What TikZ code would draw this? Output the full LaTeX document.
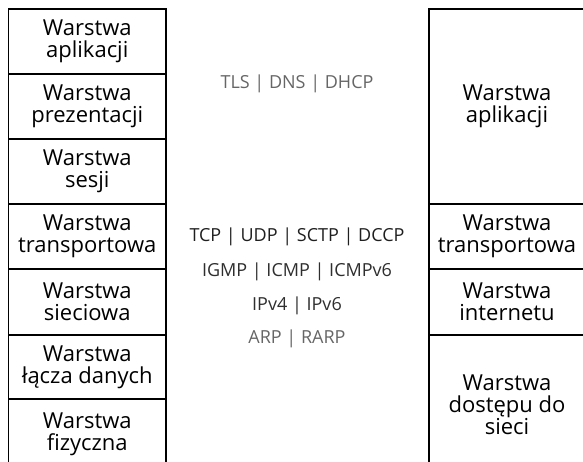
\documentclass[tikz,border=0pt]{standalone}
\usepackage{fontspec}
\setmainfont{Open Sans}
\usepackage{tikz}
\usetikzlibrary{shapes}
\begin{document}
\begin{tikzpicture}[x=1pt,y=-1pt]
    \tikzstyle{layer}=[rectangle, draw, line width=1.1pt, align=center, inner sep=0pt,
    font=\fontsize{22}{22}\selectfont]
    \tikzstyle{proto}=[anchor=base, inner sep=0pt, font=\fontsize{18}{18}\selectfont]
\useasboundingbox (0,0) rectangle (583,462);

% model OSI
\node[layer, minimum width = 157.5pt,
    minimum height = 65pt] (r1) at (87.25,41.5) {Warstwa\\aplikacji};
\node[layer, minimum width = 157.5pt,
    minimum height = 65pt] (r2) at (87.25,106.5) {Warstwa\\prezentacji};
\node[layer, minimum width = 157.5pt,
    minimum height = 65pt] (r3) at (87.25,171.5) {Warstwa\\sesji};
\node[layer, minimum width = 157.5pt,
    minimum height = 65pt] (r4) at (87.25,236.5) {Warstwa\\transportowa};
\node[layer, minimum width = 157.5pt,
    minimum height = 66pt] (r5) at (87.25,302) {Warstwa\\sieciowa};
\node[layer, minimum width = 157.5pt,
    minimum height = 64pt] (r6) at (87.25,367) {Warstwa\\łącza danych};
\node[layer, minimum width = 157.5pt,
    minimum height = 70pt] (r7) at (87.25,434) {Warstwa\\fizyczna};

% model TCP/IP
\node[layer, minimum width = 156pt,
    minimum height = 195pt] (s1) at (507,106.5) {Warstwa\\aplikacji};
\node[layer, minimum width = 156pt,
    minimum height = 65pt] (s2) at (507,236.5) {Warstwa\\transportowa};
\node[layer, minimum width = 156pt,
    minimum height = 66pt] (s3) at (507,302) {Warstwa\\internetu};
\node[layer, minimum width = 156pt,
    minimum height = 140pt] (s4) at (507,405) {Warstwa\\dostępu do\\sieci};

% protokoly
\node[proto, text=black!60] (p1) at (297,89) {TLS | DNS | DHCP};
\node[proto, text=black!88] (p2) at (297,242) {TCP | UDP | SCTP | DCCP};
\node[proto, text=black!82] (p3) at (297,276) {IGMP | ICMP | ICMPv6};
\node[proto, text=black!82] (p4) at (297,310) {IPv4 | IPv6};
\node[proto, text=black!60] (p5) at (297,343) {ARP | RARP};

\end{tikzpicture}
\end{document}
